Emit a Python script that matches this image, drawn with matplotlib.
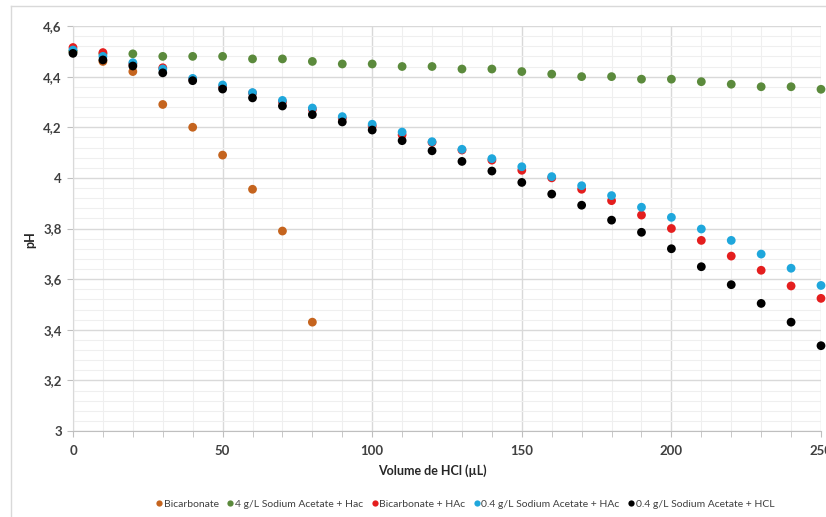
import matplotlib
matplotlib.use("Agg")
import matplotlib.pyplot as plt
from matplotlib.ticker import MultipleLocator, FuncFormatter
from matplotlib.lines import Line2D

volume = [0, 10, 20, 30, 40, 50, 60, 70, 80, 90, 100, 110, 120, 130, 140, 150,
          160, 170, 180, 190, 200, 210, 220, 230, 240, 250]

bicarb_vol = [0, 10, 20, 30, 40, 50, 60, 70, 80]
bicarbonate = [4.50, 4.46, 4.42, 4.29, 4.20, 4.09, 3.955, 3.79, 3.43]

naac4_hac = [4.50, 4.49, 4.49, 4.48, 4.48, 4.48, 4.47, 4.47, 4.46, 4.45, 4.45, 4.44,
             4.44, 4.43, 4.43, 4.42, 4.41, 4.40, 4.40, 4.39, 4.39, 4.38, 4.37,
             4.36, 4.36, 4.35]

bicarb_hac = [4.515, 4.495, 4.45, 4.435, 4.39, 4.36, 4.335, 4.30, 4.27, 4.235,
              4.205, 4.17, 4.14, 4.11, 4.07, 4.03, 4.00, 3.955, 3.91, 3.853,
              3.80, 3.753, 3.691, 3.635, 3.573, 3.524]

naac04_hac = [4.505, 4.48, 4.455, 4.43, 4.393, 4.367, 4.337, 4.306, 4.276, 4.242,
              4.212, 4.181, 4.143, 4.113, 4.076, 4.044, 4.005, 3.969, 3.93, 3.884,
              3.844, 3.798, 3.753, 3.699, 3.643, 3.575]

naac04_hcl = [4.492, 4.466, 4.442, 4.415, 4.384, 4.351, 4.316, 4.284, 4.25, 4.221,
              4.189, 4.147, 4.107, 4.065, 4.027, 3.982, 3.936, 3.892, 3.833, 3.785,
              3.72, 3.649, 3.578, 3.504, 3.43, 3.337]

labels = ["Bicarbonate", "4 g/L Sodium Acetate + Hac", "Bicarbonate + HAc",
          "0.4 g/L Sodium Acetate + HAc", "0.4 g/L Sodium Acetate + HCL"]
colors = ["#C5641E", "#5B8A3C", "#E41E1E", "#1FA7DC", "#000000"]

FONT = "Lato"
W, H = 826, 517
fig = plt.figure(figsize=(W / 100, H / 100), dpi=100)
ax = fig.add_axes([73 / W, 1 - 431 / H, (821 - 73) / W, (431 - 26) / H])

series = [(bicarb_vol, bicarbonate), (volume, naac4_hac), (volume, bicarb_hac),
          (volume, naac04_hac), (volume, naac04_hcl)]
for (xs, ys), c, lab in zip(series, colors, labels):
    ax.scatter(xs, ys, s=40, color=c, edgecolors="none", zorder=3, label=lab,
               clip_on=False)

ax.set_xlim(0, 250)
ax.set_ylim(3, 4.6)
ax.xaxis.set_major_locator(MultipleLocator(50))
ax.xaxis.set_minor_locator(MultipleLocator(10))
ax.yaxis.set_major_locator(MultipleLocator(0.2))
ax.yaxis.set_minor_locator(MultipleLocator(0.04))

def yfmt(v, pos):
    s = f"{v:.1f}".rstrip("0").rstrip(".")
    return s.replace(".", ",")

ax.yaxis.set_major_formatter(FuncFormatter(yfmt))

ax.grid(which="major", color="#d9d9d9", linewidth=1.0, zorder=0)
ax.grid(which="minor", color="#efefef", linewidth=0.8, zorder=0)
ax.set_axisbelow(True)

for side in ["top", "right"]:
    ax.spines[side].set_visible(False)
ax.spines["left"].set_color("#d9d9d9")
ax.spines["bottom"].set_color("#bfbfbf")

ax.tick_params(axis="x", which="both", direction="out", length=4, color="#bfbfbf",
               labelsize=9.5, labelcolor="#404040", pad=6)
ax.tick_params(axis="y", which="major", direction="out", length=4, color="#bfbfbf",
               labelsize=9.5, labelcolor="#404040", pad=4)
ax.tick_params(axis="y", which="minor", length=0)
for lab in ax.get_xticklabels() + ax.get_yticklabels():
    lab.set_fontfamily(FONT)
    lab.set_fontweight("bold")

fig.text(432 / W, 1 - 471 / H, "Volume de HCl (µL)", ha="center", va="center",
         fontsize=9, fontweight="bold", color="#262626", family=FONT)
fig.text(30 / W, 1 - 240 / H, "pH", ha="center", va="center", rotation=90,
         fontsize=9, fontweight="bold", color="#262626", family=FONT)

handles = [Line2D([], [], marker="o", linestyle="none", markersize=4.5,
                  markerfacecolor=c, markeredgecolor="none") for c in colors]
fig.legend(handles, labels, loc="center", bbox_to_anchor=(465 / W, 1 - 504 / H),
           ncol=5, frameon=False, handletextpad=0.1, columnspacing=0.75,
           handlelength=0.7, prop={"family": FONT, "size": 7.5},
           labelcolor="#404040")

# outer chart border
fig.add_artist(Line2D([11 / W, 11 / W], [0, 1 - 6 / H], transform=fig.transFigure,
                      color="#d9d9d9", linewidth=1))
fig.add_artist(Line2D([11 / W, 1], [1 - 6 / H, 1 - 6 / H], transform=fig.transFigure,
                      color="#d9d9d9", linewidth=1))

fig.savefig("out.png", dpi=100)
